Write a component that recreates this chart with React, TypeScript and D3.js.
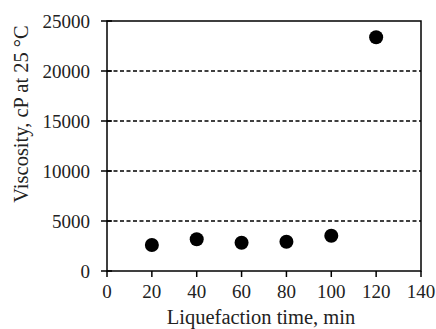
import React from "react";
import * as d3 from "d3";

const times = [20, 40, 60, 80, 100, 120];
const viscosity = [2600, 3170, 2830, 2930, 3530, 23370];
const xTicks = [0, 20, 40, 60, 80, 100, 120, 140];
const yTicks = [0, 5000, 10000, 15000, 20000, 25000];
const gridTicks = [5000, 10000, 15000, 20000];

const W = 436;
const H = 329;
const M = { left: 107, right: 15, top: 21, bottom: 58 };

export default function App() {
  const x = d3.scaleLinear().domain([0, 140]).range([M.left, W - M.right]);
  const y = d3.scaleLinear().domain([0, 25000]).range([H - M.bottom, M.top]);
  const font = "'Liberation Serif', 'Times New Roman', serif";
  const x0 = x(0);
  const x1 = x(140);
  const y0 = y(0);
  const y1 = y(25000);
  return (
    <svg
      width={W}
      height={H}
      style={{ position: "absolute", left: 0, top: 0, background: "#fff" }}
      fontFamily={font}
    >
      {gridTicks.map((t) => (
        <line
          key={"g" + t}
          x1={x0}
          x2={x1}
          y1={y(t)}
          y2={y(t)}
          stroke="#000"
          strokeWidth={1.6}
          strokeDasharray="4,2.5"
        />
      ))}
      <rect x={x0} y={y1} width={x1 - x0} height={y0 - y1} fill="none" stroke="#000" strokeWidth={1.5} />
      {yTicks.map((t) => (
        <g key={"y" + t}>
          <line x1={x0 - 6} x2={x0 + 5} y1={y(t)} y2={y(t)} stroke="#000" strokeWidth={1.5} />
          <text x={x0 - 17} y={y(t)} dy="0.35em" textAnchor="end" fontSize={19} fill="#222">
            {t}
          </text>
        </g>
      ))}
      {xTicks.map((t) => (
        <g key={"x" + t}>
          <line x1={x(t)} x2={x(t)} y1={y0} y2={y0 + 6} stroke="#000" strokeWidth={1.5} />
          <text x={x(t)} y={y0 + 27} textAnchor="middle" fontSize={19} fill="#222">
            {t}
          </text>
        </g>
      ))}
      {times.map((t, i) => (
        <circle key={"p" + t} cx={x(t)} cy={y(viscosity[i])} r={7} fill="#000" />
      ))}
      <text x={261} y={324} textAnchor="middle" fontSize={20.5} fill="#222">
        Liquefaction time, min
      </text>
      <text
        transform={`translate(28, 114) rotate(-90)`}
        textAnchor="middle"
        fontSize={20.5}
        fill="#222"
      >
        Viscosity, cP at 25 °C
      </text>
    </svg>
  );
}
